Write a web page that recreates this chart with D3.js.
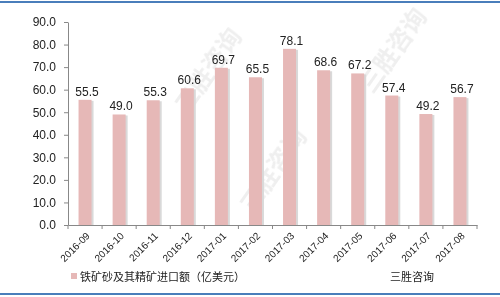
<!DOCTYPE html>
<html>
<head>
<meta charset="utf-8">
<script src="https://cdn.jsdelivr.net/npm/d3@7"></script>
<style>
  body { margin: 0; background: #fff; }
  svg text { font-family: "Liberation Sans", Arial, "Noto Sans CJK SC", sans-serif; }
</style>
</head>
<body>
<svg id="chart" width="500" height="297"></svg>
<script>
const months = ['2016-09', '2016-10', '2016-11', '2016-12', '2017-01', '2017-02',
  '2017-03', '2017-04', '2017-05', '2017-06', '2017-07', '2017-08'];
const values = [55.5, 49.0, 55.3, 60.6, 69.7, 65.5, 78.1, 68.6, 67.2, 57.4, 49.2, 56.7];
const yTicks = [0, 10, 20, 30, 40, 50, 60, 70, 80, 90];
const seriesName = '铁矿砂及其精矿进口额（亿美元）';
const source = '三胜咨询';

const svg = d3.select('#chart');
const margin = { left: 68, right: 23, top: 22, bottom: 72 };
const width = 500, height = 297;

// frame lines top and bottom
svg.append('rect').attr('x', 0).attr('y', 1).attr('width', width).attr('height', 2).attr('fill', '#4a7ebb');
svg.append('rect').attr('x', 0).attr('y', 293).attr('width', width).attr('height', 2).attr('fill', '#4a7ebb');

const x = d3.scaleBand().domain(months).range([margin.left, width - margin.right]);
const y = d3.scaleLinear().domain([0, 90]).range([height - margin.bottom, margin.top]);

// faint watermark
const wm = svg.append('g').attr('opacity', 0.12).attr('fill', '#777');
[[215, 75], [400, 55], [280, 175]].forEach(([cx, cy]) => {
  wm.append('text').attr('transform', `translate(${cx},${cy}) rotate(-55)`)
    .attr('text-anchor', 'middle').attr('font-size', 24).attr('font-weight', 'bold').text(source);
});

const bw = 13;
// bar shadows
svg.append('g').selectAll('rect').data(values).join('rect')
  .attr('x', (d, i) => x(months[i]) + x.bandwidth() / 2 - bw / 2 + 2)
  .attr('y', d => y(d) + 1)
  .attr('width', bw)
  .attr('height', d => y(0) - y(d) - 1)
  .attr('fill', '#d9d9d9');

svg.append('g').selectAll('rect').data(values).join('rect')
  .attr('x', (d, i) => x(months[i]) + x.bandwidth() / 2 - bw / 2)
  .attr('y', d => y(d))
  .attr('width', bw)
  .attr('height', d => y(0) - y(d))
  .attr('fill', '#e6b8b7');

// value labels
svg.append('g').selectAll('text').data(values).join('text')
  .attr('x', (d, i) => x(months[i]) + x.bandwidth() / 2 + 2)
  .attr('y', d => y(d) - 4)
  .attr('text-anchor', 'middle')
  .attr('font-size', 12)
  .attr('fill', '#222')
  .text(d => d.toFixed(1));

// y axis
const yAxis = svg.append('g').attr('transform', `translate(${margin.left},0)`)
  .call(d3.axisLeft(y).tickValues(yTicks).tickFormat(d3.format('.1f')).tickSize(4).tickSizeOuter(0));
yAxis.select('.domain').attr('stroke', '#888');
yAxis.selectAll('.tick line').attr('stroke', '#888');
yAxis.selectAll('.tick text').attr('font-size', 12).attr('fill', '#222').attr('x', -12);

// x axis
const xAxis = svg.append('g').attr('transform', `translate(0,${y(0)})`)
  .call(d3.axisBottom(x).tickSize(0).tickSizeOuter(0));
xAxis.select('.domain').attr('stroke', '#888');
xAxis.selectAll('.tick text').remove();
xAxis.selectAll('.tick line').remove();
// tick marks at band edges
const edges = months.map(m => x(m)).concat([x.range()[1]]);
xAxis.selectAll('.edge').data(edges).join('line')
  .attr('x1', d => d).attr('x2', d => d).attr('y1', 0).attr('y2', 4).attr('stroke', '#888');
xAxis.selectAll('.lbl').data(months).join('text')
  .attr('transform', m => `translate(${x(m) + x.bandwidth() / 2 + 3},${9}) rotate(-45)`)
  .attr('text-anchor', 'end')
  .attr('dy', '0.35em')
  .attr('font-size', 10)
  .attr('fill', '#222')
  .text(m => m);

// legend
svg.append('rect').attr('x', 71).attr('y', 273).attr('width', 6).attr('height', 6).attr('fill', '#e6b8b7');
svg.append('text').attr('x', 80).attr('y', 281).attr('font-size', 11).attr('fill', '#222').text(seriesName);
svg.append('text').attr('x', 390).attr('y', 281).attr('font-size', 11).attr('fill', '#222').text(source);
</script>
</body>
</html>
